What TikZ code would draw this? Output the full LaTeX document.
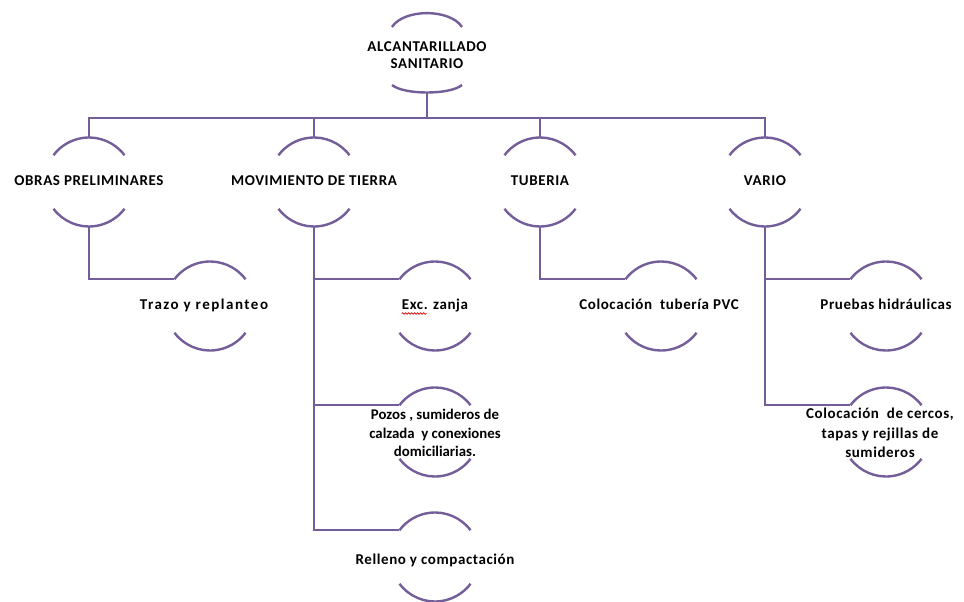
\documentclass[tikz,border=0pt]{standalone}
\usepackage{fontspec}
\setmainfont{Carlito}
\newfontfamily\labelfont{Carlito}[LetterSpace=4]
\newfontfamily\tightlabelfont{Carlito}
\newfontfamily\widelabelfont{Carlito}[LetterSpace=10]
\usetikzlibrary{decorations.pathmorphing}
\definecolor{linepurple}{RGB}{116,94,154}
\tikzset{
  x=1pt, y=1pt,
  arcline/.style={draw=linepurple, line width=2.4pt},
  conn/.style={draw=linepurple, line width=2.4pt},
  lbl/.style={font=\labelfont\fontsize{15}{18.5}\selectfont\bfseries, inner sep=0pt, align=center, text=black},
  oneline/.style={text height=9.5pt, text depth=3.5pt},
  squiggle/.style={draw=red!85!black, line width=0.7pt, decorate,
    decoration={snake, amplitude=0.8pt, segment length=3pt}},
}
% label with a top and a bottom arc of a circle round it
% [node options]{name}{centre x}{centre y (downwards)}{text}
\newcommand\arcnode[5][]{%
  \node[lbl,#1] (#2) at (#3,-#4) {#5};
  \draw[arcline] ([shift={(37:44.5)}]#3,-#4) arc[start angle=37,end angle=143,radius=44.5];
  \draw[arcline] ([shift={(217:44.5)}]#3,-#4) arc[start angle=217,end angle=323,radius=44.5];
  \coordinate (#2-n) at ([yshift=44.5pt]#3,-#4);
  \coordinate (#2-s) at ([yshift=-44.5pt]#3,-#4);
  \coordinate (#2-w) at ([shift={(143:44.5)}]#3,-#4);
}
\begin{document}
\begin{tikzpicture}
\useasboundingbox[fill=white] (0,0) rectangle (964,-602);

% root
\node[lbl, font=\labelfont\fontsize{15}{16.5}\selectfont\bfseries] (root) at (427,-55) {ALCANTARILLADO\\SANITARIO};
\draw[arcline] (392,-27) .. controls (404,-8.5) and (450,-8.5) .. (462,-27);
\draw[arcline] (392,-85) .. controls (404,-95) and (450,-95) .. (462,-85);
\coordinate (root-s) at (427,-92.5);
\coordinate (bar) at (427,-118);

% first level
\arcnode[oneline]{obras}{89}{182}{OBRAS PRELIMINARES}
\arcnode[oneline]{mov}{314}{182}{MOVIMIENTO DE TIERRA}
\arcnode[oneline]{tub}{540}{182}{TUBERIA}
\arcnode[oneline]{vario}{765}{182}{VARIO}

% second level
\arcnode[oneline, xshift=-6pt, font=\widelabelfont\fontsize{15}{18.5}\selectfont\bfseries]{trazo}{210}{306}{Trazo y replanteo}
\arcnode[oneline]{exc}{435}{306}{Exc. zanja}
\arcnode[oneline, xshift=-2pt]{pvc}{661}{306}{Colocación \ tubería PVC}
\arcnode[oneline]{pruebas}{886}{306}{Pruebas hidráulicas}
\arcnode[yshift=-1pt, font=\tightlabelfont\fontsize{14.8}{18.5}\selectfont\bfseries]{pozos}{435}{432}{Pozos , sumideros de\\calzada \ y conexiones\\domiciliarias.}
\arcnode[xshift=-6pt, yshift=-1pt, font=\labelfont\fontsize{15}{19.5}\selectfont\bfseries]{cercos}{886}{432}{Colocación \ de cercos,\\tapas y rejillas de\\sumideros}
\arcnode[oneline, yshift=-4pt]{relleno}{435}{557}{Relleno y compactación}

% spell-check mark under the abbreviation
\draw[squiggle] ([yshift=-4.5pt]exc.base west) -- ([yshift=-4.5pt, xshift=25pt]exc.base west);

% connectors
\draw[conn] (root-s) -- (bar);
\draw[conn] (bar) -| (obras-n);
\draw[conn] (bar) -| (mov-n);
\draw[conn] (bar) -| (tub-n);
\draw[conn] (bar) -| (vario-n);

\draw[conn] (obras-s) |- (trazo-w);
\draw[conn] (mov-s) |- (exc-w);
\draw[conn] (mov-s) |- (pozos-w);
\draw[conn] (mov-s) |- (relleno-w);
\draw[conn] (tub-s) |- (pvc-w);
\draw[conn] (vario-s) |- (pruebas-w);
\draw[conn] (vario-s) |- (cercos-w);
\end{tikzpicture}
\end{document}
